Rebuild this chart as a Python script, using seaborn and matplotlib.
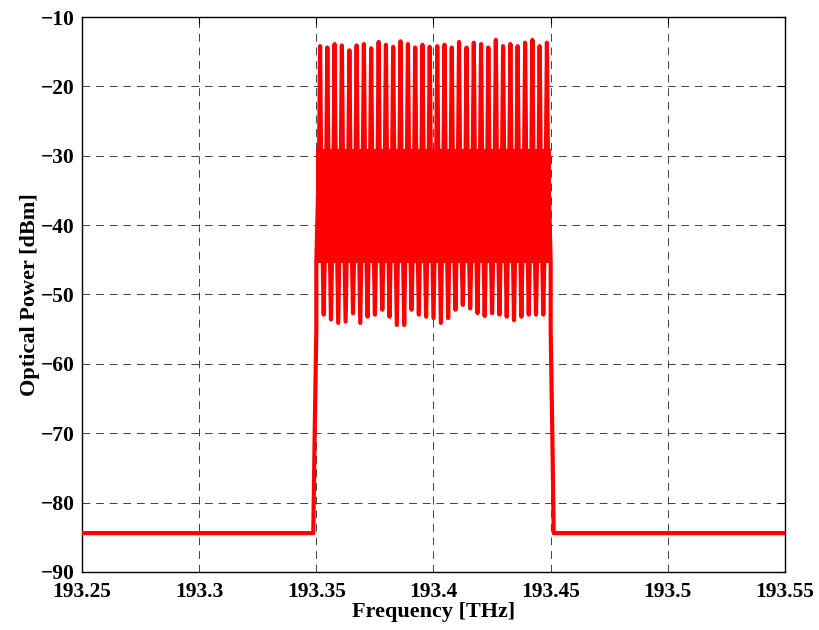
import numpy as np
import pandas as pd
import matplotlib
matplotlib.use("Agg")
import matplotlib.pyplot as plt
import seaborn as sns

# ---- data ----
peak_freq = [193.3516, 193.3547, 193.3578, 193.3609, 193.3641, 193.3672, 193.3703, 193.3734,
             193.3766, 193.3797, 193.3828, 193.3859, 193.3891, 193.3922, 193.3953, 193.3984,
             193.4016, 193.4047, 193.4078, 193.4109, 193.4141, 193.4172, 193.4203, 193.4234,
             193.4266, 193.4297, 193.4328, 193.4359, 193.4391, 193.4422, 193.4453, 193.4484]
peak_db = [-14.2, -14.4, -13.9, -14.1, -14.8, -14.1, -13.9, -14.5, -13.6, -14.0, -14.3, -13.5,
           -13.9, -14.4, -14.0, -14.3, -14.2, -14.0, -14.4, -13.6, -14.4, -13.7, -13.9, -14.4,
           -13.3, -14.2, -13.9, -14.2, -13.7, -13.3, -14.2, -13.7]
# minima between neighbouring peaks (31 values)
dip_db = [-52.9, -53.6, -54.1, -53.9, -52.7, -54.1, -53.2, -52.9, -52.2, -53.2, -54.4,
          -54.4, -52.2, -52.9, -53.2, -53.4, -54.1, -53.4, -52.2, -51.5, -52.0, -52.7,
          -53.1, -52.7, -52.9, -53.2, -53.7, -53.2, -52.9, -52.9, -52.9]
band_top_db = -29.0
band_bottom_db = -45.5
band_freq = [193.3500, 193.4500]
# band edges and noise floor
left_edge_freq = [193.2500, 193.3487, 193.3493, 193.3500]
left_edge_db = [-84.4, -84.4, -70.0, -55.0]
right_edge_freq = [193.4500, 193.4507, 193.4513, 193.5500]
right_edge_db = [-55.0, -70.0, -84.4, -84.4]

x_ticks = [193.25, 193.3, 193.35, 193.4, 193.45, 193.5, 193.55]
x_ticklabels = ["193.25", "193.3", "193.35", "193.4", "193.45", "193.5", "193.55"]
y_ticks = [-90, -80, -70, -60, -50, -40, -30, -20, -10]

# ---- build the trace ----
hw = 0.0004
xs, ys = list(left_edge_freq), list(left_edge_db)
xs.append(band_freq[0]); ys.append(band_bottom_db)
for i, (f, p) in enumerate(zip(peak_freq, peak_db)):
    xs += [f - hw, f, f + hw]
    ys += [band_top_db, p, band_top_db]
    if i < len(dip_db):
        m = 0.5 * (f + peak_freq[i + 1])
        xs += [m - hw, m, m + hw]
        ys += [band_bottom_db, dip_db[i], band_bottom_db]
xs.append(band_freq[1]); ys.append(band_bottom_db)
xs += right_edge_freq
ys += right_edge_db
df = pd.DataFrame({"freq": xs, "power": ys})

sns.set_style("white")
plt.rcParams["font.family"] = ["Liberation Serif", "DejaVu Serif"]
plt.rcParams["font.weight"] = "bold"
plt.rcParams["text.color"] = "black"
plt.rcParams["axes.labelcolor"] = "black"

fig = plt.figure(figsize=(8.19, 6.30), dpi=100)
ax = fig.add_axes([0.1001, 0.0921, 0.8584, 0.8809])

ax.fill_between(band_freq, [band_bottom_db] * 2, [band_top_db] * 2, color="red", lw=0, zorder=3)
sns.lineplot(data=df, x="freq", y="power", sort=False, estimator=None, color="red",
             linewidth=3.0, ax=ax, zorder=4)
for l in ax.lines:
    l.set_solid_joinstyle("round")
    l.set_solid_capstyle("round")

ax.set_xlim(193.25, 193.55)
ax.set_ylim(-90, -10)
ax.set_xticks(x_ticks)
ax.set_xticklabels(x_ticklabels)
ax.set_yticks(y_ticks)
ax.set_yticklabels([f"\u2212{abs(v)}" for v in y_ticks])

ax.grid(True, color="0.25", linestyle=(0, (8, 6)), linewidth=0.7)
ax.set_axisbelow(True)
for s in ax.spines.values():
    s.set_visible(True)
    s.set_color("black")
    s.set_linewidth(1.0)
ax.tick_params(direction="in", length=5, width=0.8, top=True, right=True,
               labelsize=15.5, colors="black")
ax.tick_params(axis="x", pad=7)
ax.tick_params(axis="y", pad=5)
for lab in ax.get_xticklabels() + ax.get_yticklabels():
    lab.set_fontweight("bold")
ax.set_xlabel("Frequency [THz]", fontsize=16, fontweight="bold", labelpad=0, color="black")
ax.set_ylabel("Optical Power [dBm]", fontsize=16, fontweight="bold", labelpad=1, color="black")

fig.savefig("out.png", dpi=100, facecolor="white")
